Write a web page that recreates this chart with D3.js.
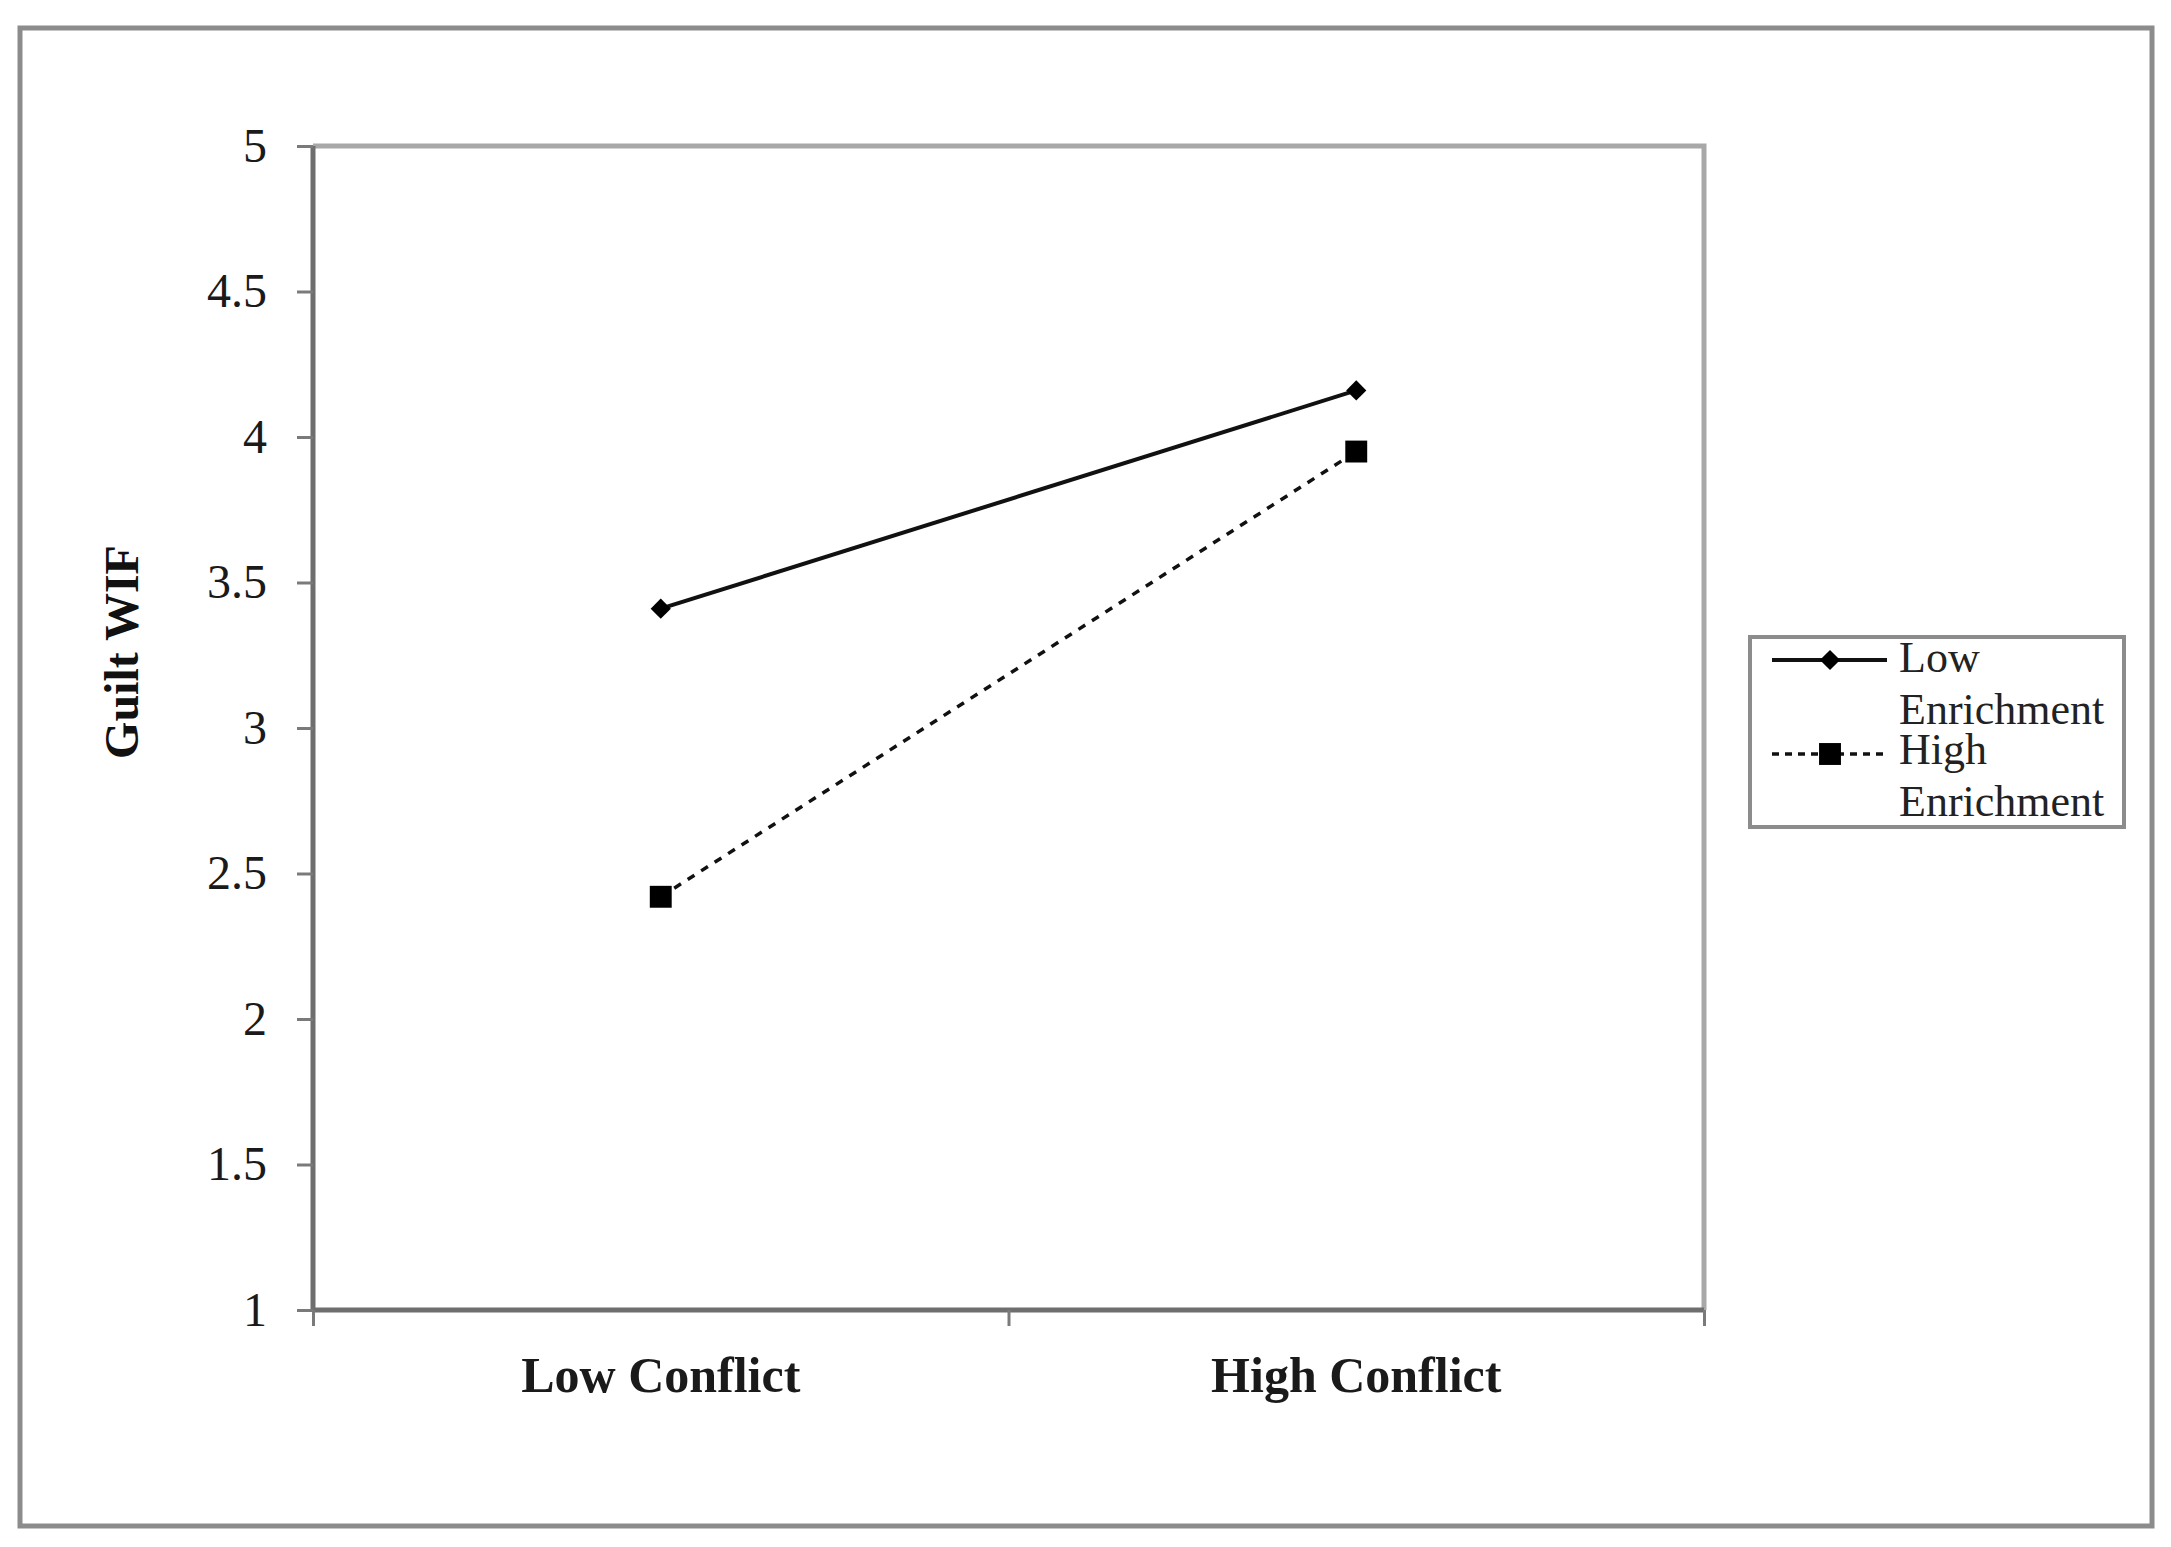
<!DOCTYPE html>
<html>
<head>
<meta charset="utf-8">
<script src="https://cdn.jsdelivr.net/npm/d3@7"></script>
<style>
  body { margin: 0; background: #fff; }
  svg { display: block; }
  text { font-family: "Liberation Serif", "Times New Roman", serif; }
</style>
</head>
<body>
<div id="chart"></div>
<script>
// values
const conditions = ['Low Conflict', 'High Conflict'];
const seriesNames = ['Low Enrichment', 'High Enrichment'];
const lowEnrichment = [3.41, 4.16];
const highEnrichment = [2.42, 3.95];
const yTicks = [1, 1.5, 2, 2.5, 3, 3.5, 4, 4.5, 5];
const yTickLabels = ['1', '1.5', '2', '2.5', '3', '3.5', '4', '4.5', '5'];
const yTitle = 'Guilt  WIF';

const W = 2171;
const H = 1547;
const plot = { left: 313, right: 1704, top: 146, bottom: 1310 };

const svg = d3.select('#chart').append('svg')
  .attr('width', W)
  .attr('height', H);

// outer frame
svg.append('rect')
  .attr('x', 20).attr('y', 28)
  .attr('width', 2132).attr('height', 1498)
  .attr('fill', '#fff')
  .attr('stroke', '#8c8c8c')
  .attr('stroke-width', 5);

const x = d3.scaleBand()
  .domain(conditions)
  .range([plot.left, plot.right]);

const xEdges = d3.scaleLinear()
  .domain([0, conditions.length])
  .range([plot.left, plot.right]);

const y = d3.scaleLinear()
  .domain([1, 5])
  .range([plot.bottom, plot.top]);

// plot area box (top / right sides are lighter)
svg.append('path')
  .attr('d', `M${plot.left},${plot.top}H${plot.right}V${plot.bottom}`)
  .attr('fill', 'none')
  .attr('stroke', '#a8a8a8')
  .attr('stroke-width', 5);

// y axis
const yAxis = svg.append('g')
  .attr('transform', `translate(${plot.left},0)`)
  .call(d3.axisLeft(y)
    .tickValues(yTicks)
    .tickFormat((d, i) => yTickLabels[i])
    .tickSize(16)
    .tickPadding(30));
yAxis.select('.domain')
  .attr('stroke', '#6e6e6e')
  .attr('stroke-width', 5)
  .attr('d', `M0,${plot.top}V${plot.bottom}`);
yAxis.selectAll('.tick line').attr('stroke', '#7a7a7a').attr('stroke-width', 3);
yAxis.selectAll('.tick text')
  .attr('fill', '#1a1a1a')
  .style('font-size', '48px')
  .style('font-family', '"Liberation Serif", serif');

// x axis: ticks on category edges, labels in the middle
const xAxis = svg.append('g')
  .attr('transform', `translate(0,${plot.bottom})`)
  .call(d3.axisBottom(xEdges)
    .tickValues(d3.range(conditions.length + 1))
    .tickFormat('')
    .tickSize(16));
xAxis.select('.domain')
  .attr('stroke', '#6e6e6e')
  .attr('stroke-width', 5)
  .attr('d', `M${plot.left},0H${plot.right}`);
xAxis.selectAll('.tick line').attr('stroke', '#7a7a7a').attr('stroke-width', 3);

svg.append('g')
  .selectAll('text')
  .data(conditions)
  .join('text')
  .attr('x', d => x(d) + x.bandwidth() / 2)
  .attr('y', 1392)
  .attr('text-anchor', 'middle')
  .attr('fill', '#1a1a1a')
  .style('font-size', '50px')
  .style('font-weight', 'bold')
  .text(d => d);

// y title
svg.append('text')
  .attr('transform', 'translate(138,652) rotate(-90)')
  .attr('text-anchor', 'middle')
  .attr('fill', '#111')
  .style('font-size', '48px')
  .style('font-weight', 'bold')
  .text(yTitle);

// series
const line = d3.line()
  .x((d, i) => x(conditions[i]) + x.bandwidth() / 2)
  .y(d => y(d));

const series = [
  { name: seriesNames[0], values: lowEnrichment, dash: null, width: 4, marker: d3.symbolDiamond2, size: 260 },
  { name: seriesNames[1], values: highEnrichment, dash: '8,8', width: 3.5, marker: d3.symbolSquare, size: 480 }
];

series.forEach(s => {
  svg.append('path')
    .datum(s.values)
    .attr('fill', 'none')
    .attr('stroke', '#111')
    .attr('stroke-width', s.width)
    .attr('stroke-dasharray', s.dash)
    .attr('d', line);

  svg.append('g')
    .selectAll('path')
    .data(s.values)
    .join('path')
    .attr('transform', (d, i) => `translate(${x(conditions[i]) + x.bandwidth() / 2},${y(d)})`)
    .attr('d', d3.symbol().type(s.marker).size(s.size))
    .attr('fill', '#000');
});

// legend
const legend = svg.append('g');
legend.append('rect')
  .attr('x', 1750).attr('y', 637)
  .attr('width', 374).attr('height', 190)
  .attr('fill', '#fff')
  .attr('stroke', '#8c8c8c')
  .attr('stroke-width', 4);

const legendRows = [
  { s: series[0], lineY: 660, lines: ['Low', 'Enrichment'], textY: 672 },
  { s: series[1], lineY: 754, lines: ['High', 'Enrichment'], textY: 764 }
];

legendRows.forEach(r => {
  legend.append('line')
    .attr('x1', 1772).attr('x2', 1887)
    .attr('y1', r.lineY).attr('y2', r.lineY)
    .attr('stroke', '#111')
    .attr('stroke-width', r.s.width)
    .attr('stroke-dasharray', r.s.dash ? '7,6' : null);
  legend.append('path')
    .attr('transform', `translate(1830,${r.lineY})`)
    .attr('d', d3.symbol().type(r.s.marker).size(r.s.size))
    .attr('fill', '#000');
  r.lines.forEach((t, i) => {
    legend.append('text')
      .attr('x', 1899)
      .attr('y', r.textY + i * 52)
      .attr('fill', '#222')
      .style('font-size', '44px')
      .text(t);
  });
});
</script>
</body>
</html>
